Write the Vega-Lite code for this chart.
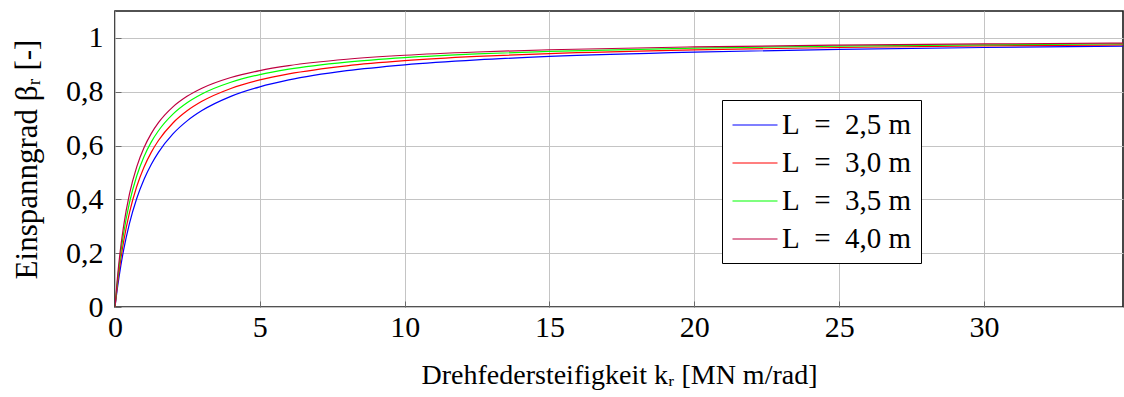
{
  "$schema": "https://vega.github.io/schema/vega-lite/v6.json",
  "width": 1008,
  "height": 296,
  "autosize": {"type": "none"},
  "padding": {"left": 115, "top": 11, "right": 1, "bottom": 90},
  "background": "white",
  "config": {
    "view": {"stroke": "#1a1a1a", "strokeWidth": 1.6},
    "font": "Liberation Serif"
  },
  "data": {
    "values": [
      {"k": 0, "b": 0, "L": "L = 2,5 m"},
      {"k": 0.1, "b": 0.0826, "L": "L = 2,5 m"},
      {"k": 0.2, "b": 0.1527, "L": "L = 2,5 m"},
      {"k": 0.3, "b": 0.2128, "L": "L = 2,5 m"},
      {"k": 0.5, "b": 0.3106, "L": "L = 2,5 m"},
      {"k": 0.75, "b": 0.4032, "L": "L = 2,5 m"},
      {"k": 1, "b": 0.4739, "L": "L = 2,5 m"},
      {"k": 1.25, "b": 0.5297, "L": "L = 2,5 m"},
      {"k": 1.5, "b": 0.5747, "L": "L = 2,5 m"},
      {"k": 2, "b": 0.6431, "L": "L = 2,5 m"},
      {"k": 2.5, "b": 0.6925, "L": "L = 2,5 m"},
      {"k": 3, "b": 0.7299, "L": "L = 2,5 m"},
      {"k": 4, "b": 0.7828, "L": "L = 2,5 m"},
      {"k": 5, "b": 0.8183, "L": "L = 2,5 m"},
      {"k": 6, "b": 0.8439, "L": "L = 2,5 m"},
      {"k": 8, "b": 0.8782, "L": "L = 2,5 m"},
      {"k": 10, "b": 0.9001, "L": "L = 2,5 m"},
      {"k": 12.5, "b": 0.9184, "L": "L = 2,5 m"},
      {"k": 15, "b": 0.9311, "L": "L = 2,5 m"},
      {"k": 20, "b": 0.9474, "L": "L = 2,5 m"},
      {"k": 25, "b": 0.9575, "L": "L = 2,5 m"},
      {"k": 30, "b": 0.9643, "L": "L = 2,5 m"},
      {"k": 34.8, "b": 0.9691, "L": "L = 2,5 m"},
      {"k": 0, "b": 0, "L": "L = 3,0 m"},
      {"k": 0.1, "b": 0.0976, "L": "L = 3,0 m"},
      {"k": 0.2, "b": 0.1778, "L": "L = 3,0 m"},
      {"k": 0.3, "b": 0.2449, "L": "L = 3,0 m"},
      {"k": 0.5, "b": 0.3509, "L": "L = 3,0 m"},
      {"k": 0.75, "b": 0.4478, "L": "L = 3,0 m"},
      {"k": 1, "b": 0.5195, "L": "L = 3,0 m"},
      {"k": 1.25, "b": 0.5747, "L": "L = 3,0 m"},
      {"k": 1.5, "b": 0.6186, "L": "L = 3,0 m"},
      {"k": 2, "b": 0.6838, "L": "L = 3,0 m"},
      {"k": 2.5, "b": 0.7299, "L": "L = 3,0 m"},
      {"k": 3, "b": 0.7643, "L": "L = 3,0 m"},
      {"k": 4, "b": 0.8122, "L": "L = 3,0 m"},
      {"k": 5, "b": 0.8439, "L": "L = 3,0 m"},
      {"k": 6, "b": 0.8664, "L": "L = 3,0 m"},
      {"k": 8, "b": 0.8964, "L": "L = 3,0 m"},
      {"k": 10, "b": 0.9153, "L": "L = 3,0 m"},
      {"k": 12.5, "b": 0.9311, "L": "L = 3,0 m"},
      {"k": 15, "b": 0.9419, "L": "L = 3,0 m"},
      {"k": 20, "b": 0.9558, "L": "L = 3,0 m"},
      {"k": 25, "b": 0.9643, "L": "L = 3,0 m"},
      {"k": 30, "b": 0.9701, "L": "L = 3,0 m"},
      {"k": 34.8, "b": 0.9741, "L": "L = 3,0 m"},
      {"k": 0, "b": 0, "L": "L = 3,5 m"},
      {"k": 0.1, "b": 0.1124, "L": "L = 3,5 m"},
      {"k": 0.2, "b": 0.2020, "L": "L = 3,5 m"},
      {"k": 0.3, "b": 0.2752, "L": "L = 3,5 m"},
      {"k": 0.5, "b": 0.3876, "L": "L = 3,5 m"},
      {"k": 0.75, "b": 0.4870, "L": "L = 3,5 m"},
      {"k": 1, "b": 0.5587, "L": "L = 3,5 m"},
      {"k": 1.25, "b": 0.6127, "L": "L = 3,5 m"},
      {"k": 1.5, "b": 0.6550, "L": "L = 3,5 m"},
      {"k": 2, "b": 0.7168, "L": "L = 3,5 m"},
      {"k": 2.5, "b": 0.7599, "L": "L = 3,5 m"},
      {"k": 3, "b": 0.7916, "L": "L = 3,5 m"},
      {"k": 4, "b": 0.8351, "L": "L = 3,5 m"},
      {"k": 5, "b": 0.8636, "L": "L = 3,5 m"},
      {"k": 6, "b": 0.8837, "L": "L = 3,5 m"},
      {"k": 8, "b": 0.9101, "L": "L = 3,5 m"},
      {"k": 10, "b": 0.9268, "L": "L = 3,5 m"},
      {"k": 12.5, "b": 0.9406, "L": "L = 3,5 m"},
      {"k": 15, "b": 0.9500, "L": "L = 3,5 m"},
      {"k": 20, "b": 0.9620, "L": "L = 3,5 m"},
      {"k": 25, "b": 0.9694, "L": "L = 3,5 m"},
      {"k": 30, "b": 0.9743, "L": "L = 3,5 m"},
      {"k": 34.8, "b": 0.9778, "L": "L = 3,5 m"},
      {"k": 0, "b": 0, "L": "L = 4,0 m"},
      {"k": 0.1, "b": 0.1266, "L": "L = 4,0 m"},
      {"k": 0.2, "b": 0.2247, "L": "L = 4,0 m"},
      {"k": 0.3, "b": 0.3030, "L": "L = 4,0 m"},
      {"k": 0.5, "b": 0.4202, "L": "L = 4,0 m"},
      {"k": 0.75, "b": 0.5208, "L": "L = 4,0 m"},
      {"k": 1, "b": 0.5917, "L": "L = 4,0 m"},
      {"k": 1.25, "b": 0.6443, "L": "L = 4,0 m"},
      {"k": 1.5, "b": 0.6849, "L": "L = 4,0 m"},
      {"k": 2, "b": 0.7435, "L": "L = 4,0 m"},
      {"k": 2.5, "b": 0.7837, "L": "L = 4,0 m"},
      {"k": 3, "b": 0.8130, "L": "L = 4,0 m"},
      {"k": 4, "b": 0.8529, "L": "L = 4,0 m"},
      {"k": 5, "b": 0.8787, "L": "L = 4,0 m"},
      {"k": 6, "b": 0.8969, "L": "L = 4,0 m"},
      {"k": 8, "b": 0.9206, "L": "L = 4,0 m"},
      {"k": 10, "b": 0.9355, "L": "L = 4,0 m"},
      {"k": 12.5, "b": 0.9477, "L": "L = 4,0 m"},
      {"k": 15, "b": 0.9560, "L": "L = 4,0 m"},
      {"k": 20, "b": 0.9667, "L": "L = 4,0 m"},
      {"k": 25, "b": 0.9731, "L": "L = 4,0 m"},
      {"k": 30, "b": 0.9775, "L": "L = 4,0 m"},
      {"k": 34.8, "b": 0.9806, "L": "L = 4,0 m"}
    ]
  },
  "mark": {"type": "line", "strokeWidth": 1.2, "interpolate": "monotone", "clip": true},
  "encoding": {
    "x": {
      "field": "k",
      "type": "quantitative",
      "scale": {"domain": [0, 34.8], "nice": false, "zero": false},
      "axis": {
        "values": [0, 5, 10, 15, 20, 25, 30],
        "title": "Drehfedersteifigkeit kᵣ [MN m/rad]",
        "titleFont": "Liberation Serif",
        "titleFontSize": 28,
        "titleFontWeight": "normal",
        "titleColor": "black",
        "titlePadding": 19,
        "labelFont": "Liberation Serif",
        "labelFontSize": 30,
        "labelColor": "black",
        "labelPadding": 11,
        "labelFlush": false,
        "domain": false,
        "grid": true,
        "gridColor": "#c4c4c4",
        "gridWidth": 1,
        "ticks": true,
        "tickSize": -6,
        "tickColor": "#6b6b6b",
        "tickWidth": 1
      }
    },
    "y": {
      "field": "b",
      "type": "quantitative",
      "scale": {"domain": [0, 1.1], "nice": false},
      "axis": {
        "values": [0, 0.2, 0.4, 0.6, 0.8, 1],
        "labelExpr": "replace(format(datum.value, '~g'), '.', ',')",
        "title": "Einspanngrad βᵣ [-]",
        "titleFont": "Liberation Serif",
        "titleFontSize": 31,
        "titleFontWeight": "normal",
        "titleColor": "black",
        "titlePadding": 22,
        "labelFont": "Liberation Serif",
        "labelFontSize": 30,
        "labelColor": "black",
        "labelPadding": 18,
        "labelFlush": false,
        "domain": false,
        "grid": true,
        "gridColor": "#c4c4c4",
        "gridWidth": 1,
        "ticks": true,
        "tickSize": -6,
        "tickColor": "#6b6b6b",
        "tickWidth": 1
      }
    },
    "color": {
      "field": "L",
      "type": "nominal",
      "scale": {
        "domain": ["L = 2,5 m", "L = 3,0 m", "L = 3,5 m", "L = 4,0 m"],
        "range": ["#0000ff", "#ff0000", "#00ff00", "#bf0040"]
      },
      "legend": {
        "title": null,
        "orient": "none",
        "legendX": 607,
        "legendY": 89,
        "fillColor": "white",
        "strokeColor": "black",
        "cornerRadius": 0,
        "padding": 9,
        "symbolType": "M-1.5,0H1.5",
        "symbolSize": 900,
        "symbolStrokeWidth": 1.2,
        "symbolOffset": 8,
        "labelExpr": "replace(datum.label, ' = ', '\u2002=\u2002')",
        "labelFont": "Liberation Serif",
        "labelFontSize": 29,
        "labelColor": "black",
        "labelOffset": 11,
        "rowPadding": 7,
        "labelLimit": 300
      }
    }
  }
}
